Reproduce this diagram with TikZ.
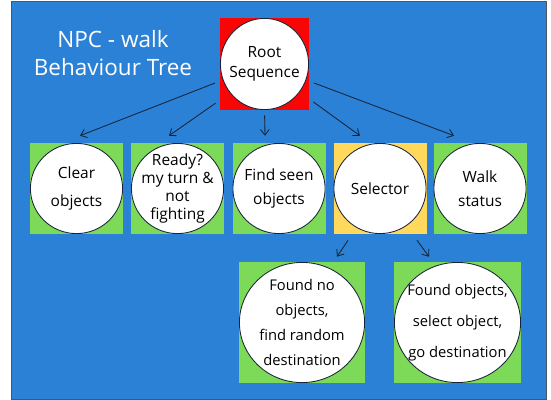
\documentclass[tikz,border=0pt]{standalone}
\usepackage{fontspec}
\setmainfont{Open Sans}
\usetikzlibrary{arrows.meta,calc}
\definecolor{sky}{RGB}{42,129,213}
\definecolor{grass}{RGB}{125,217,88}
\definecolor{sun}{RGB}{255,216,92}
\definecolor{rootred}{RGB}{250,5,5}
\definecolor{ink}{RGB}{25,35,55}
\definecolor{frame}{RGB}{75,85,100}
\tikzset{
  >={Straight Barb[length=1.4mm,width=2.2mm]},
  tnode/.style={rectangle,fill=#1,inner sep=0pt,align=center,text=black,
    minimum width=2.325cm,minimum height=2.275cm,
    path picture={\draw[fill=white,draw=ink,line width=0.6pt]
      let \p1=($(path picture bounding box.north east)-(path picture bounding box.center)$)
      in (path picture bounding box.center) ellipse ({\x1-0.3pt} and {\y1-0.3pt});}},
  tnode/.default=grass,
  big/.style={minimum width=3.15cm,minimum height=3.025cm},
  link/.style={->,line width=0.6pt,draw=ink},
}
\begin{document}
\begin{tikzpicture}
  \useasboundingbox (0,0) rectangle (13.775,-10);
  \fill[sky,draw=frame,line width=0.6pt] (0.275,-0.025) rectangle (13.65,-9.975);

  % title
  \node[text=white,align=center,font=\fontsize{16}{20.5}\selectfont] (title) at (2.825,-1.325)
    {NPC - walk\\Behaviour Tree};

  % root
  \node[tnode=rootred,minimum width=2.225cm,minimum height=2.3cm,
    font=\fontsize{11}{14.5}\selectfont] (root) at (6.6125,-1.6) {Root\\Sequence};

  % children
  \node[tnode,font=\fontsize{11}{20}\selectfont] (clear) at (1.9125,-4.7125) {Clear\\objects};
  \node[tnode,font=\fontsize{11}{13}\selectfont] (ready) at (4.4375,-4.7125) {Ready?\\my turn \&\\not\\fighting};
  \node[tnode,font=\fontsize{11}{17}\selectfont] (find) at (6.975,-4.7125) {Find seen\\objects};
  \node[tnode=sun,font=\fontsize{11}{17}\selectfont] (selector) at (9.5,-4.7125) {Selector};
  \node[tnode,font=\fontsize{11}{17}\selectfont] (walk) at (12,-4.7125) {Walk\\status};

  % selector leaves
  \node[tnode,big,font=\fontsize{10.5}{18}\selectfont] (nofound) at (7.55,-8.0625)
    {Found no\\objects,\\find random\\destination};
  \node[tnode,big,minimum width=3.175cm,font=\fontsize{10.5}{22}\selectfont] (found) at (11.4375,-8.0625)
    {Found objects,\\select object,\\go destination};

  \draw[link,shorten <=0.125cm] (root.201) -- ([shift={(0.0875,0.175)}]clear.north);
  \draw[link,shorten <=0.125cm] (root.219) -- ([shift={(-0.2125,0.175)}]ready.north);
  \draw[link,shorten <=0.125cm] (root.south) -- ([shift={(-0.35,0.175)}]find.north);
  \draw[link,shorten <=0.125cm] (root.-38) -- ([shift={(-0.5,0.175)}]selector.north);
  \draw[link,shorten <=0.125cm] (root.-21) -- ([shift={(-0.65,0.175)}]walk.north);
  \draw[link] ([shift={(-0.8,-0.15)}]selector.south) -- ([shift={(0.875,0.125)}]nofound.north);
  \draw[link] ([shift={(0.925,-0.15)}]selector.south) -- ([shift={(-0.7125,0.125)}]found.north);
\end{tikzpicture}
\end{document}
